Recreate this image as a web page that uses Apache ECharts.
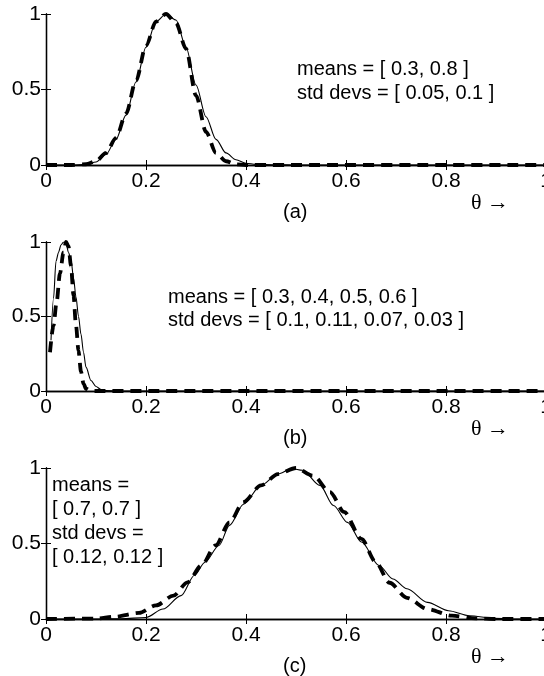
<!DOCTYPE html>
<html>
<head>
<meta charset="utf-8">
<script src="https://cdn.jsdelivr.net/npm/echarts@6/dist/echarts.min.js"></script>
<style>
  html, body { margin: 0; padding: 0; background: #fff; }
  #chart { width: 544px; height: 676px; }
</style>
</head>
<body>
<div id="chart"></div>
<script>
// tick labels
const thetaTicks = [0, 0.2, 0.4, 0.6, 0.8, 1];
const probTicks = [0, 0.5, 1];

// panel (a): means [0.3, 0.8], std devs [0.05, 0.1]
const aSolidX = [0, 0.05, 0.08, 0.1, 0.12, 0.14, 0.16, 0.18, 0.2, 0.22, 0.24, 0.26, 0.28, 0.3, 0.32, 0.34, 0.36, 0.38, 0.4, 0.42, 0.46, 0.5, 1];
const aSolidY = [0, 0, 0.004, 0.02, 0.07, 0.17, 0.33, 0.55, 0.78, 0.95, 1.0, 0.96, 0.78, 0.53, 0.32, 0.17, 0.08, 0.035, 0.012, 0.004, 0.001, 0, 0];
const aDashX = [0, 0.05, 0.08, 0.1, 0.12, 0.14, 0.16, 0.18, 0.2, 0.22, 0.24, 0.26, 0.28, 0.3, 0.32, 0.34, 0.36, 0.38, 0.4, 1];
const aDashY = [0, 0, 0.005, 0.025, 0.08, 0.18, 0.34, 0.56, 0.79, 0.95, 1.0, 0.94, 0.77, 0.46, 0.22, 0.08, 0.025, 0.005, 0, 0];

// panel (b): means [0.3, 0.4, 0.5, 0.6], std devs [0.1, 0.11, 0.07, 0.03]
const bSolidX = [0.01, 0.015, 0.02, 0.025, 0.03, 0.035, 0.04, 0.045, 0.05, 0.055, 0.06, 0.065, 0.07, 0.075, 0.08, 0.09, 0.1, 0.11, 0.12, 0.15, 0.2, 1];
const bSolidY = [0.34, 0.62, 0.87, 0.93, 0.98, 1.0, 0.99, 0.93, 0.88, 0.76, 0.63, 0.5, 0.38, 0.26, 0.16, 0.07, 0.03, 0.01, 0.003, 0, 0, 0];
const bDashX = [0.008, 0.015, 0.021, 0.028, 0.035, 0.04, 0.045, 0.05, 0.055, 0.06, 0.065, 0.07, 0.075, 0.08, 0.09, 0.1, 1];
const bDashY = [0.26, 0.44, 0.59, 0.79, 0.93, 1.0, 0.97, 0.84, 0.64, 0.44, 0.27, 0.13, 0.05, 0.015, 0, 0, 0];

// panel (c): means [0.7, 0.7], std devs [0.12, 0.12]
const cSolidX = [0, 0.1, 0.15, 0.2, 0.234, 0.27, 0.297, 0.318, 0.346, 0.367, 0.395, 0.43, 0.464, 0.492, 0.513, 0.548, 0.575, 0.603, 0.631, 0.666, 0.694, 0.722, 0.763, 0.805, 0.847, 0.896, 0.95, 1];
const cSolidY = [0, 0, 0.002, 0.01, 0.066, 0.155, 0.29, 0.376, 0.487, 0.62, 0.76, 0.885, 0.96, 0.996, 0.985, 0.885, 0.752, 0.64, 0.51, 0.354, 0.265, 0.2, 0.11, 0.055, 0.022, 0.004, 0, 0];
const cDashX = [0, 0.1, 0.137, 0.186, 0.22, 0.255, 0.283, 0.311, 0.339, 0.367, 0.395, 0.43, 0.464, 0.5, 0.534, 0.568, 0.596, 0.631, 0.659, 0.687, 0.722, 0.763, 0.812, 0.86, 0.9, 1];
const cDashY = [0, 0.003, 0.015, 0.04, 0.09, 0.155, 0.243, 0.354, 0.487, 0.64, 0.774, 0.885, 0.96, 1.0, 0.95, 0.84, 0.71, 0.53, 0.38, 0.24, 0.14, 0.066, 0.022, 0.004, 0, 0];

const panels = [
  { top: 14, height: 151, solidX: aSolidX, solidY: aSolidY, dashX: aDashX, dashY: aDashY,
    note: ['means = [ 0.3, 0.8 ]', 'std devs = [ 0.05, 0.1 ]'], noteX: 297, noteY: 71, gap: 24.5, tag: '(a)' },
  { top: 242, height: 149, solidX: bSolidX, solidY: bSolidY, dashX: bDashX, dashY: bDashY,
    note: ['means = [ 0.3, 0.4, 0.5, 0.6 ]', 'std devs = [ 0.1, 0.11, 0.07, 0.03 ]'], noteX: 168, noteY: 299, gap: 23.5, tag: '(b)' },
  { top: 468, height: 151, solidX: cSolidX, solidY: cSolidY, dashX: cDashX, dashY: cDashY,
    note: ['means =', '[ 0.7, 0.7 ]', 'std devs =', '[ 0.12, 0.12 ]'], noteX: 52, noteY: 487, gap: 24, tag: '(c)' }
];

const FONT = '"Liberation Sans", Arial, sans-serif';
const LEFT = 46;
const WIDTH = 500;

function pairs(xs, ys) {
  return xs.map((x, i) => [x, ys[i]]);
}

const grid = [];
const xAxis = [];
const yAxis = [];
const series = [];
const graphic = [];

panels.forEach((p, i) => {
  grid.push({ left: LEFT, top: p.top, width: WIDTH, height: p.height, containLabel: false, outerBoundsMode: 'none' });

  const axisLine = { show: true, lineStyle: { color: '#000', width: 1.3 } };
  const tick = { show: true, inside: true, length: 5, lineStyle: { color: '#000', width: 1 } };

  xAxis.push({
    type: 'value', gridIndex: i, position: 'bottom', min: 0, max: 1, interval: 0.2,
    axisLine, axisTick: tick, splitLine: { show: false },
    axisLabel: { color: '#000', fontSize: 21, fontFamily: FONT, margin: 6, hideOverlap: false,
      formatter: (v) => thetaTicks.includes(+v.toFixed(1)) ? String(+v.toFixed(1)) : '' }
  });
  xAxis.push({
    type: 'value', gridIndex: i, position: 'top', min: 0, max: 1, interval: 0.2,
    axisLine, axisTick: tick, splitLine: { show: false }, axisLabel: { show: false }
  });
  yAxis.push({
    type: 'value', gridIndex: i, position: 'left', min: 0, max: 1, interval: 0.5,
    axisLine, axisTick: tick, splitLine: { show: false },
    axisLabel: { color: '#000', fontSize: 21, fontFamily: FONT, margin: 5,
      formatter: (v) => probTicks.includes(v) ? String(v) : '' }
  });
  yAxis.push({
    type: 'value', gridIndex: i, position: 'right', min: 0, max: 1, interval: 0.5,
    axisLine, axisTick: tick, splitLine: { show: false }, axisLabel: { show: false }
  });

  series.push({
    type: 'line', xAxisIndex: 2 * i, yAxisIndex: 2 * i, data: pairs(p.solidX, p.solidY),
    showSymbol: false, smooth: 0.3, smoothMonotone: 'x', animation: false,
    lineStyle: { color: '#000', width: 1.1 }, z: 3
  });
  series.push({
    type: 'line', xAxisIndex: 2 * i, yAxisIndex: 2 * i, data: pairs(p.dashX, p.dashY),
    showSymbol: false, smooth: 0.3, smoothMonotone: 'x', animation: false,
    lineStyle: { color: '#000', width: 3.8, type: [11, 7] }, z: 4
  });

  p.note.forEach((line, k) => {
    graphic.push({
      type: 'text', left: p.noteX, top: p.noteY - 12 + k * p.gap,
      style: { text: line, font: '20px ' + FONT, fill: '#000' }
    });
  });
  const bottom = p.top + p.height;
  graphic.push({
    type: 'text', left: 283, top: bottom + 37,
    style: { text: p.tag, font: '20px ' + FONT, fill: '#000' }
  });
  graphic.push({
    type: 'text', left: 471, top: bottom + 27,
    style: { text: 'θ →', font: '22px "Liberation Serif", serif', fill: '#000' }
  });
});

const chart = echarts.init(document.getElementById('chart'), null, { renderer: 'canvas' });
chart.setOption({
  backgroundColor: '#fff',
  animation: false,
  grid, xAxis, yAxis, series, graphic
});
</script>
</body>
</html>
